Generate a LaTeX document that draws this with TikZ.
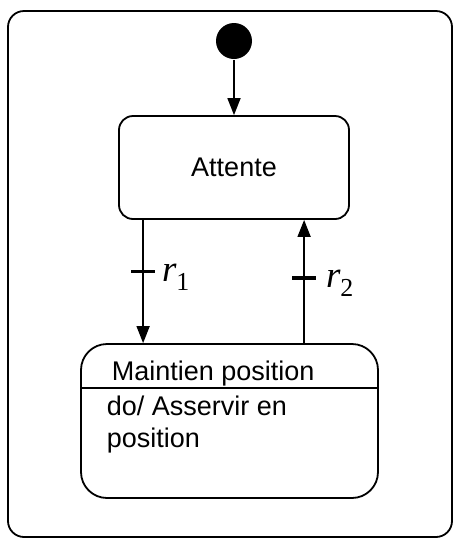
\documentclass[tikz,border=0pt]{standalone}
\usepackage{fontspec}
\setmainfont{Liberation Serif}
\setsansfont{Liberation Sans}
\usetikzlibrary{arrows.meta, positioning, calc}
\newcommand{\cond}[1]{{\itshape r}\textsubscript{#1}}

\begin{document}
\begin{tikzpicture}[x=1pt, y=-1pt, line width=1.8pt, every node/.style={align=center}]
  \tikzset{etat/.style={draw, rounded corners=14pt, font=\sffamily\fontsize{27}{32}\selectfont, inner sep=0pt},
    txt/.style={inner sep=0pt, font=\sffamily\fontsize{27}{32}\selectfont},
    trans/.style={-{Triangle[length=17pt, width=13pt]}},
    garde/.style={line width=3.5pt},
    lbl/.style={font=\fontsize{37}{40}\selectfont, inner sep=0pt, anchor=base west}}
  \useasboundingbox (0,0) rectangle (454,539);
  \draw[rounded corners=16pt] (8,11) rectangle (452,537);
  \node[circle, fill, inner sep=0pt, minimum size=36pt] (init) at (234,41) {};
  \node[etat, minimum width=230pt, minimum height=103pt] (attente) at (234,167.5) {Attente};
  \node[etat, rounded corners=26pt, minimum width=297pt, minimum height=154pt] (maintien) at (229.5,421) {};
  \node[txt, anchor=base west] (nom) at (111,380) {Maintien position};
  \draw ([yshift=-45pt]maintien.north west) -- ([yshift=-45pt]maintien.north east);
  \node[txt, anchor=base west, align=left] (activite) at (106,447) {do/ Asservir en\\position};
  % transitions
  \draw[trans] (init) -- (attente);
  \draw[trans] ([xshift=25pt]attente.south west) -- coordinate[pos=0.42] (g1) ([xshift=63pt]maintien.north west);
  \draw[garde] ([xshift=-12pt]g1) -- ([xshift=12pt]g1);
  \node[lbl] (r1) at ([xshift=18pt, yshift=-10pt]g1) {\cond{1}};
  \draw[trans] ([xshift=224pt]maintien.north west) -- coordinate[pos=0.53] (g2) ([xshift=186pt]attente.south west);
  \draw[garde] ([xshift=-12pt]g2) -- ([xshift=12pt]g2);
  \node[lbl] (r2) at ([xshift=21pt, yshift=-10pt]g2) {\cond{2}};
\end{tikzpicture}
\end{document}
